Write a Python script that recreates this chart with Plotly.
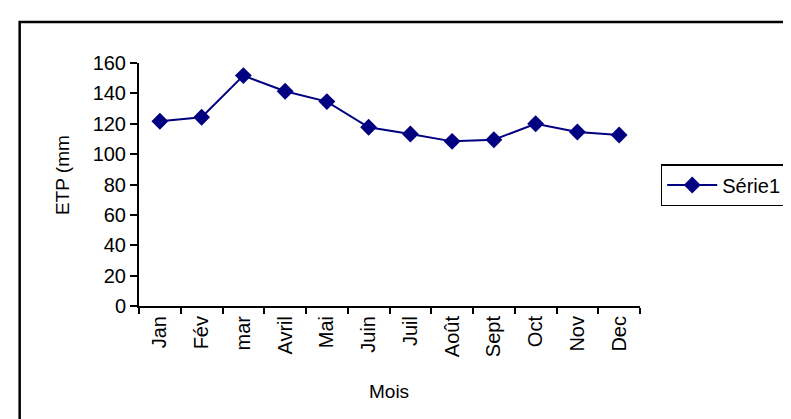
import plotly.graph_objects as go

months = ["Jan", "Fév", "mar", "Avril", "Mai", "Juin", "Juil", "Août", "Sept", "Oct", "Nov", "Dec"]
etp = [121.6, 124.3, 151.7, 141.4, 134.6, 117.7, 113.3, 108.4, 109.5, 120.0, 114.6, 112.6]
y_ticks = [0, 20, 40, 60, 80, 100, 120, 140, 160]
series_name = "Série1"
x_title = "Mois"
y_title = "ETP (mm"

FONT = "Liberation Sans, Arial, sans-serif"
NAVY = "#000080"

fig = go.Figure()
fig.add_trace(go.Scatter(
    x=months, y=etp, name=series_name, mode="lines+markers",
    line=dict(color=NAVY, width=2),
    marker=dict(symbol="diamond", size=13, color=NAVY),
))

L, R, T, B = 131, 152, 55, 121
W, H = 791, 419
pw = W - L - R
ph = H - T - B

def px(x):
    return (x - L) / pw

def py(y):
    return (H - B - y) / ph

fig.update_layout(
    width=W, height=H,
    margin=dict(l=L, r=R, t=T, b=B, pad=0),
    paper_bgcolor="white", plot_bgcolor="white",
    font=dict(family=FONT, size=19, color="black"),
    showlegend=True,
    legend=dict(
        x=px(660), y=py(156), xanchor="left", yanchor="top",
        bordercolor="black", borderwidth=1.5,
        font=dict(size=20, color="black"),
        itemwidth=50,
        bgcolor="white",
    ),
    xaxis=dict(
        type="category", range=[-0.5, 11.5],
        showline=True, linecolor="black", linewidth=2,
        ticks="outside", ticklen=6, tickwidth=2, tickcolor="black",
        tickson="boundaries", tickangle=-90,
        tickfont=dict(size=20), showgrid=False, zeroline=False,
    ),
    yaxis=dict(
        range=[0, 160], tickvals=y_ticks,
        showline=True, linecolor="black", linewidth=2,
        ticks="outside", ticklen=7, tickwidth=2, tickcolor="black",
        tickfont=dict(size=20), showgrid=False, zeroline=False,
    ),
    annotations=[
        dict(text=x_title, x=px(384), y=py(383), xref="paper", yref="paper",
             showarrow=False, font=dict(size=19), xanchor="center", yanchor="middle"),
        dict(text=y_title, x=px(53), y=py(167), xref="paper", yref="paper",
             showarrow=False, font=dict(size=19), textangle=-90,
             xanchor="center", yanchor="middle"),
    ],
    shapes=[
        dict(type="rect", xref="paper", yref="paper",
             x0=px(10), y0=py(440), x1=px(820), y1=py(14),
             line=dict(color="black", width=2.5), layer="below"),
    ],
)

fig.write_html("out.html")
